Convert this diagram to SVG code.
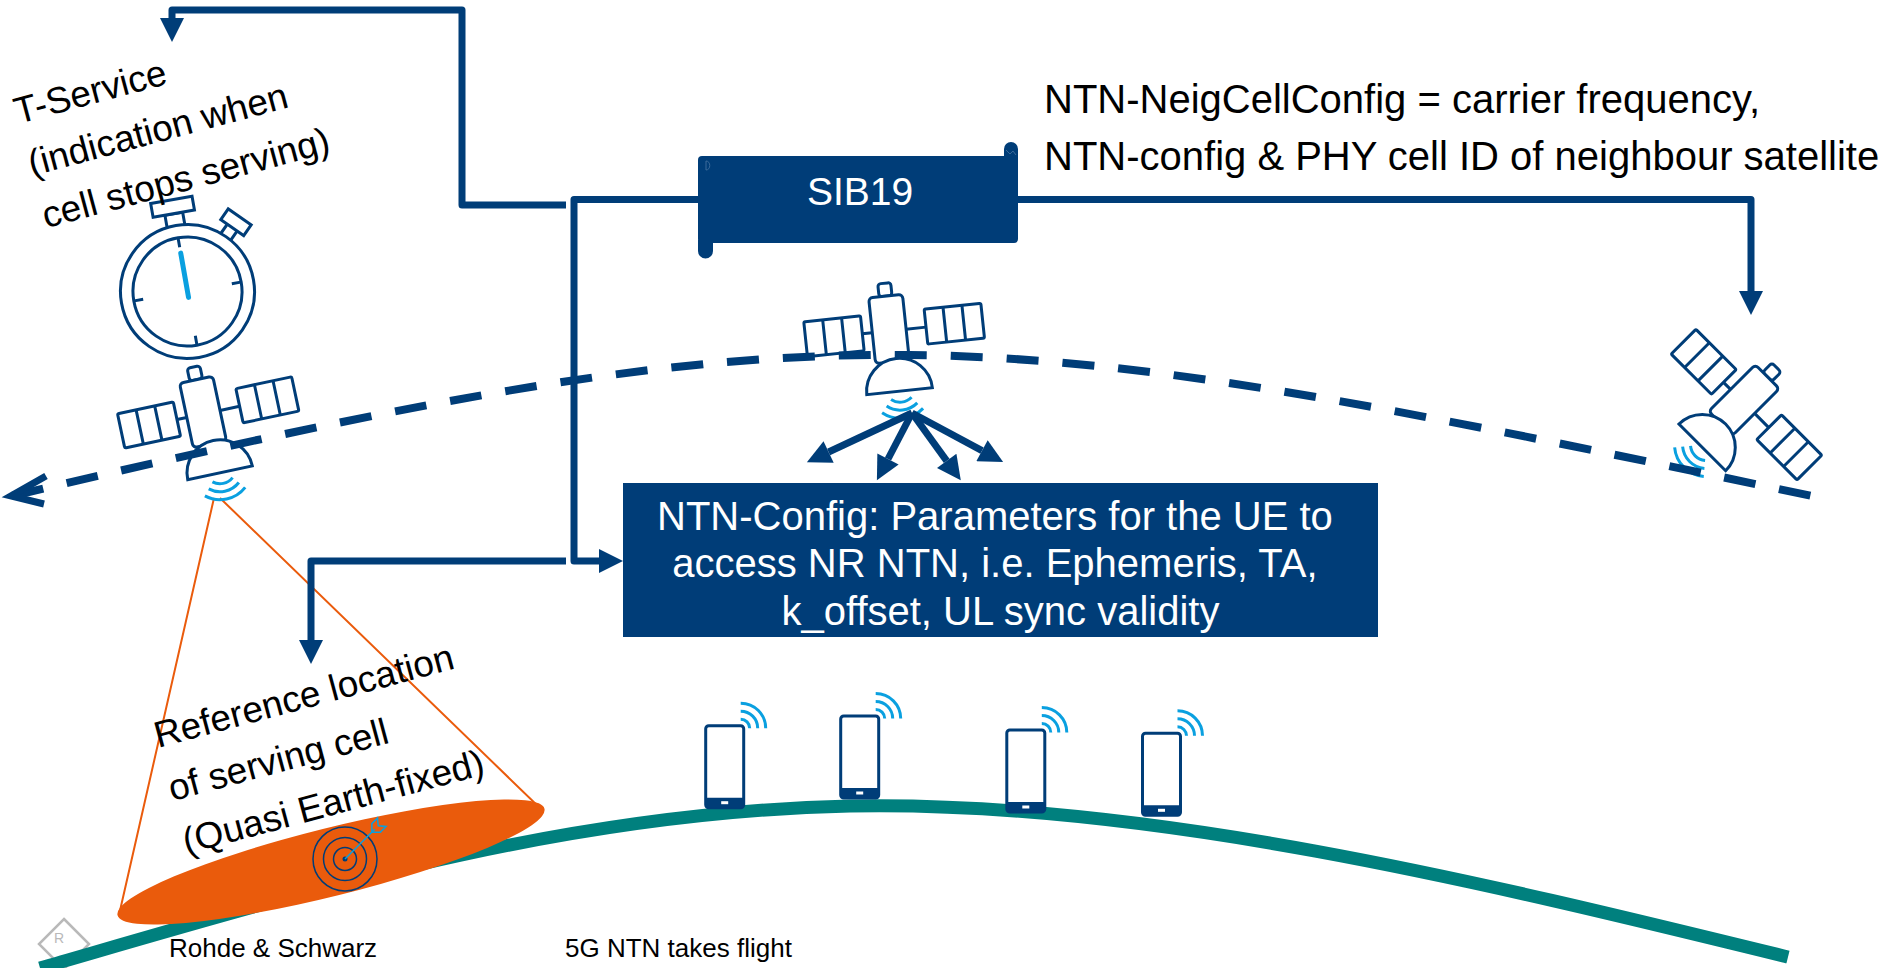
<svg xmlns="http://www.w3.org/2000/svg" xmlns:xlink="http://www.w3.org/1999/xlink" width="1884" height="968" viewBox="0 0 1884 968">
  <style>
    .txt { font-family: "Liberation Sans", Arial, sans-serif; fill: #000; }
    .wtxt { font-family: "Liberation Sans", Arial, sans-serif; fill: #fff; }
    .conn { fill: none; stroke: #003d78; stroke-width: 7; stroke-linejoin: round; }
    .icon { fill: #fff; stroke: #003d78; stroke-width: 3; }
    .iline { fill: none; stroke: #003d78; stroke-width: 3; }
    .sig { fill: none; stroke: #0aa0e0; stroke-width: 3; }
    .box { fill: #003d78; }
  </style>
  <defs>
    <marker id="head" viewBox="0 0 10 10" refX="0" refY="5" markerWidth="24" markerHeight="24" markerUnits="userSpaceOnUse" orient="auto">
      <path d="M0,0 L10,5 L0,10 Z" fill="#003d78"/>
    </marker>
    <marker id="head-s" viewBox="0 0 10 10" refX="0" refY="5" markerWidth="26" markerHeight="24" markerUnits="userSpaceOnUse" orient="auto">
      <path d="M0,0 L10,5 L0,10 Z" fill="#003d78"/>
    </marker>
    <!-- satellite icon, upright, centred on its body -->
    <g id="satellite-icon">
      <path class="iline" d="M-27,2 H-17 M17,2 H37"/>
      <rect class="icon" x="-84" y="-16" width="57" height="35" rx="1.5"/>
      <path class="iline" d="M-65,-16 V19 M-46,-16 V19"/>
      <rect class="icon" x="37" y="-16" width="57" height="35" rx="1.5"/>
      <path class="iline" d="M56,-16 V19 M75,-16 V19"/>
      <rect class="icon" x="-6.5" y="-46" width="13" height="13" rx="3"/>
      <rect class="icon" x="-17" y="-33" width="34" height="66" rx="4"/>
      <path class="icon" d="M-29,63 A33,33 0 0 1 37,63 Z"/>
      <path class="sig" d="M15.3,70.3 A16,16 0 0 1 -5.3,70.3 M20.4,76.4 A24,24 0 0 1 -10.4,76.4 M25.6,82.5 A32,32 0 0 1 -15.6,82.5"/>
    </g>
    <!-- handset icon with radio waves -->
    <g id="phone-icon">
      <rect x="0" y="0" width="38" height="82" rx="3" fill="#fff" stroke="#003d78" stroke-width="3"/>
      <path d="M0,72 H38 V79 A3,3 0 0 1 35,82 H3 A3,3 0 0 1 0,79 Z" fill="#003d78"/>
      <rect x="15.5" y="75.5" width="7" height="3" fill="#fff"/>
      <path class="sig" d="M35,-6.5 A9,9 0 0 1 44,2.5 M35,-14.5 A17,17 0 0 1 52,2.5 M35,-22.5 A25,25 0 0 1 60,2.5"/>
    </g>
  </defs>

  <rect width="1884" height="968" fill="#fff"/>

  <!-- company mark -->
  <g id="logo">
    <path d="M64,919 L89,944 L64,969 L39,944 Z" fill="#fff" stroke="#b9b9b9" stroke-width="2.5"/>
    <text x="54" y="943" font-family="Liberation Sans, Arial, sans-serif" font-size="14" fill="#b9b9b9">R</text>
  </g>

  <!-- earth surface -->
  <g id="earth">
    <path d="M40,968 C300,893 560,812 850,806 C1150,800 1490,884 1788,957" fill="none" stroke="#00807e" stroke-width="13"/>
  </g>

  <!-- serving cell footprint -->
  <g id="footprint">
    <path d="M214,498 L119,915 M220,498 L542,810" fill="none" stroke="#ea5b0c" stroke-width="2"/>
    <ellipse cx="331" cy="862" rx="220" ry="34" transform="rotate(-14 331 862)" fill="#ea5b0c"/>
    <g transform="translate(345,859)">
      <circle r="32" fill="none" stroke="#003d78" stroke-width="1.5"/>
      <circle r="21.5" fill="none" stroke="#003d78" stroke-width="1.5"/>
      <circle r="11.5" fill="none" stroke="#003d78" stroke-width="1.5"/>
      <circle r="2.5" fill="#003d78"/>
      <g transform="rotate(-45)">
        <path d="M0,0 H42" stroke="#0aa0e0" stroke-width="1.5"/>
        <path d="M38,0 L44,-6 L52,-6 L47,0 L52,6 L44,6 Z" fill="none" stroke="#0aa0e0" stroke-width="1.5"/>
      </g>
    </g>
  </g>

  <!-- user equipment -->
  <g id="ue-1"><use xlink:href="#phone-icon" transform="translate(705.7,725.7)"/></g>
  <g id="ue-2"><use xlink:href="#phone-icon" transform="translate(840.7,716)"/></g>
  <g id="ue-3"><use xlink:href="#phone-icon" transform="translate(1006.8,730)"/></g>
  <g id="ue-4"><use xlink:href="#phone-icon" transform="translate(1142.5,733.3)"/></g>

  <!-- satellites -->
  <g id="sat-serving"><use xlink:href="#satellite-icon" transform="translate(203,412) rotate(-12)"/></g>
  <g id="sat-centre"><use xlink:href="#satellite-icon" transform="translate(889,329) rotate(-6)"/></g>
  <g id="sat-neighbour"><use xlink:href="#satellite-icon" transform="translate(1744,400) rotate(45)"/></g>

  <!-- orbit -->
  <g id="orbit">
    <path d="M12,496 C853,297 971,319 1812,496" fill="none" stroke="#003d78" stroke-width="8" stroke-dasharray="32 24"/>
    <path d="M46,476 L11,496 L44,504" fill="none" stroke="#003d78" stroke-width="7" stroke-linejoin="miter"/>
  </g>

  <!-- stopwatch -->
  <g id="stopwatch" transform="translate(187.5,291.5) rotate(-10)">
    <rect class="icon" x="-9" y="-79" width="18" height="14"/>
    <rect class="icon" x="-21" y="-93" width="42" height="14"/>
    <g transform="rotate(45)">
      <rect class="icon" x="-6" y="-79" width="12" height="13"/>
      <rect class="icon" x="-14" y="-91" width="28" height="13"/>
    </g>
    <circle class="icon" r="67"/>
    <circle class="iline" r="54.5"/>
    <path class="iline" d="M0,-54 V-45 M54,0 H45 M0,54 V45 M-54,0 H-45"/>
    <path d="M0,-39 V6" stroke="#0aa0e0" stroke-width="5" stroke-linecap="round"/>
  </g>

  <!-- connectors -->
  <g id="connectors">
    <path class="conn" d="M566,205 H462 V10 H172 V18" marker-end="url(#head)"/>
    <path class="conn" d="M698,199.5 H574 V561 H599" marker-end="url(#head)"/>
    <path class="conn" d="M1018,199.5 H1751 V291" marker-end="url(#head)"/>
    <path class="conn" d="M566,561 H311 V640" marker-end="url(#head)"/>
    <path class="conn" d="M912,413 L828.6,452" marker-end="url(#head-s)"/>
    <path class="conn" d="M912,413 L888,459" marker-end="url(#head-s)"/>
    <path class="conn" d="M912,413 L946.7,460.9" marker-end="url(#head-s)"/>
    <path class="conn" d="M912,413 L982,450.7" marker-end="url(#head-s)"/>
  </g>

  <!-- SIB19 scroll -->
  <g id="sib19">
    <rect class="box" x="698" y="156" width="320" height="87" rx="4"/>
    <path class="box" d="M698,240 V251 A7.5,7.5 0 0 0 713,251 V240 Z"/>
    <path class="box" d="M1004,160 V149 A7,7 0 0 1 1018,149 V160 Z"/>
    <path d="M706,161 C711,161 711,170 706,170 Z" fill="none" stroke="#3b6a9a" stroke-width="1"/>
    <path d="M1006,150 L1010,154 L1013,151 L1016,155" fill="none" stroke="#3b6a9a" stroke-width="1"/>
    <text class="wtxt" x="860" y="205" font-size="39" text-anchor="middle">SIB19</text>
  </g>

  <!-- NTN-Config box -->
  <g id="ntn-config">
    <rect class="box" x="623" y="483" width="755" height="154"/>
    <text class="wtxt" font-size="40" text-anchor="middle">
      <tspan x="1000.5" y="530">NTN-Config: Parameters for the UE to</tspan>
      <tspan x="1000.5" y="577">access NR NTN, i.e. Ephemeris, TA,</tspan>
      <tspan x="1000.5" y="625">k_offset, UL sync validity</tspan>
    </text>
  </g>

  <!-- neighbour cell label -->
  <g id="neigh-label">
    <text class="txt" font-size="40">
      <tspan x="1044" y="113">NTN-NeigCellConfig = carrier frequency,</tspan>
      <tspan x="1044" y="170">NTN-config &amp; PHY cell ID of neighbour satellite</tspan>
    </text>
  </g>

  <!-- T-Service label -->
  <g id="tservice-label" transform="translate(18,124) rotate(-15)">
    <text class="txt" font-size="37">
      <tspan x="0" y="0">T-Service</tspan>
      <tspan x="0" y="54">(indication when</tspan>
      <tspan x="0" y="108">cell stops serving)</tspan>
    </text>
  </g>

  <!-- reference location label -->
  <g id="refloc-label" transform="translate(158,748) rotate(-15)">
    <text class="txt" font-size="37">
      <tspan x="0" y="0">Reference location</tspan>
      <tspan x="0" y="55">of serving cell</tspan>
      <tspan x="0" y="110">(Quasi Earth-fixed)</tspan>
    </text>
  </g>

  <!-- footer -->
  <g id="footer">
    <text class="txt" x="169" y="957" font-size="26">Rohde &amp; Schwarz</text>
    <text class="txt" x="565" y="957" font-size="26">5G NTN takes flight</text>
  </g>
</svg>
